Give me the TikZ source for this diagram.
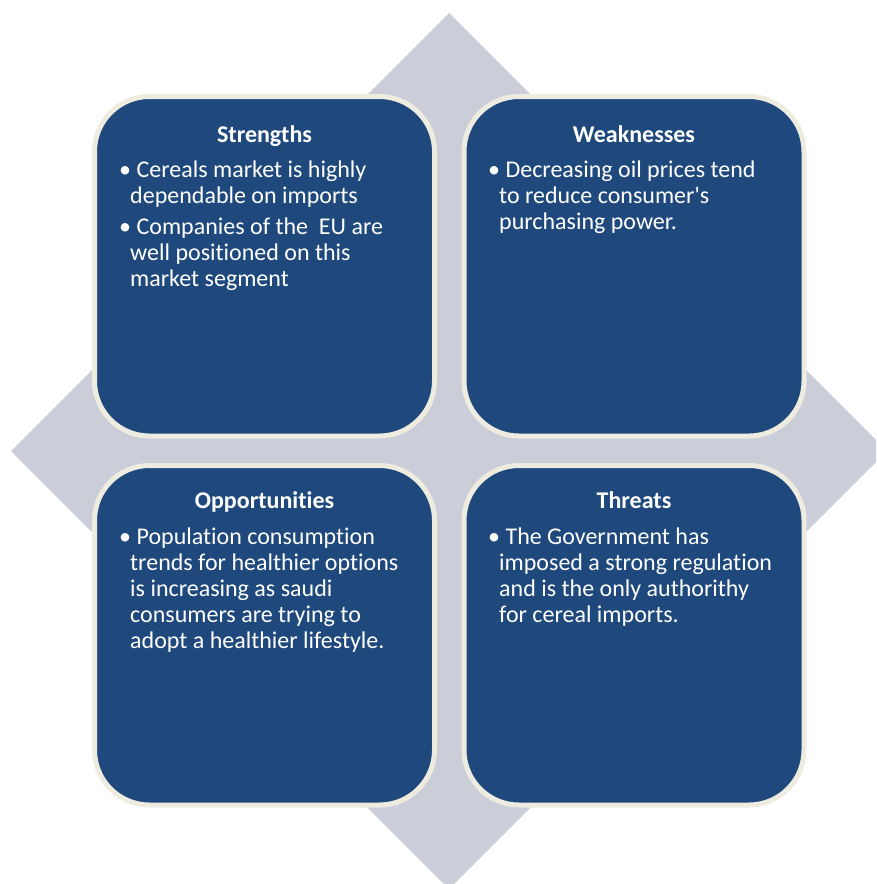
\documentclass[tikz,border=0pt]{standalone}
\usepackage{fontspec}
\setmainfont{Carlito}[Ligatures={NoCommon}]
\definecolor{boxblue}{RGB}{31,73,125}
\definecolor{boxrim}{RGB}{238,236,225}
\definecolor{diamondgray}{RGB}{203,205,217}
\begin{document}
\begin{tikzpicture}[x=1pt,y=-1pt,
  quad/.style={fill=boxblue,draw=boxrim,line width=5pt,rounded corners=55pt},
  ttl/.style={anchor=base,inner sep=0pt,text=white,font=\fontsize{24}{26}\selectfont\bfseries},
  txt/.style={anchor=base west,inner sep=0pt,text=white,font=\fontsize{24}{26}\selectfont}]
\useasboundingbox (0,0) rectangle (876,884);
\begin{scope}
\clip (0,0) rectangle (876,884);
\fill[diamondgray] (449,13) -- (887,451) -- (449,889) -- (11,451) -- cycle;
\end{scope}
% boxes
\draw[quad] (94.5,96.5) rectangle (434.5,436);
\draw[quad] (464,96.5) rectangle (804,436);
\draw[quad] (94.5,465.5) rectangle (434.5,805);
\draw[quad] (464,465.5) rectangle (804,805);
% Strengths
\node[ttl] (st) at (264.5,142) {Strengths};
\node[txt] (s1) at (119,177) {• Cereals market is highly};
\node[txt] (s2) at (130,203) {dependable on imports};
\node[txt] (s3) at (119,234.5) {• Companies of the\ \ EU are};
\node[txt] (s4) at (130,260.5) {well positioned on this};
\node[txt] (s5) at (130,286.5) {market segment};
% Weaknesses
\node[ttl] (wt) at (634,142) {Weaknesses};
\node[txt] (w1) at (488,177) {• Decreasing oil prices tend};
\node[txt] (w2) at (499,203) {to reduce consumer\textquotesingle s};
\node[txt] (w3) at (499,229) {purchasing power.};
% Opportunities
\node[ttl] (ot) at (264.5,508.5) {Opportunities};
\node[txt] (o1) at (119,544.5) {• Population consumption};
\node[txt] (o2) at (130,570.5) {trends for healthier options};
\node[txt] (o3) at (130,596.5) {is increasing as saudi};
\node[txt] (o4) at (130,622.5) {consumers are trying to};
\node[txt] (o5) at (130,648.5) {adopt a healthier lifestyle.};
% Threats
\node[ttl] (tt) at (634,508.5) {Threats};
\node[txt] (t1) at (488,544.5) {• The Government has};
\node[txt] (t2) at (499,570.5) {imposed a strong regulation};
\node[txt] (t3) at (499,596.5) {and is the only authorithy};
\node[txt] (t4) at (499,622.5) {for cereal imports.};
\end{tikzpicture}
\end{document}
